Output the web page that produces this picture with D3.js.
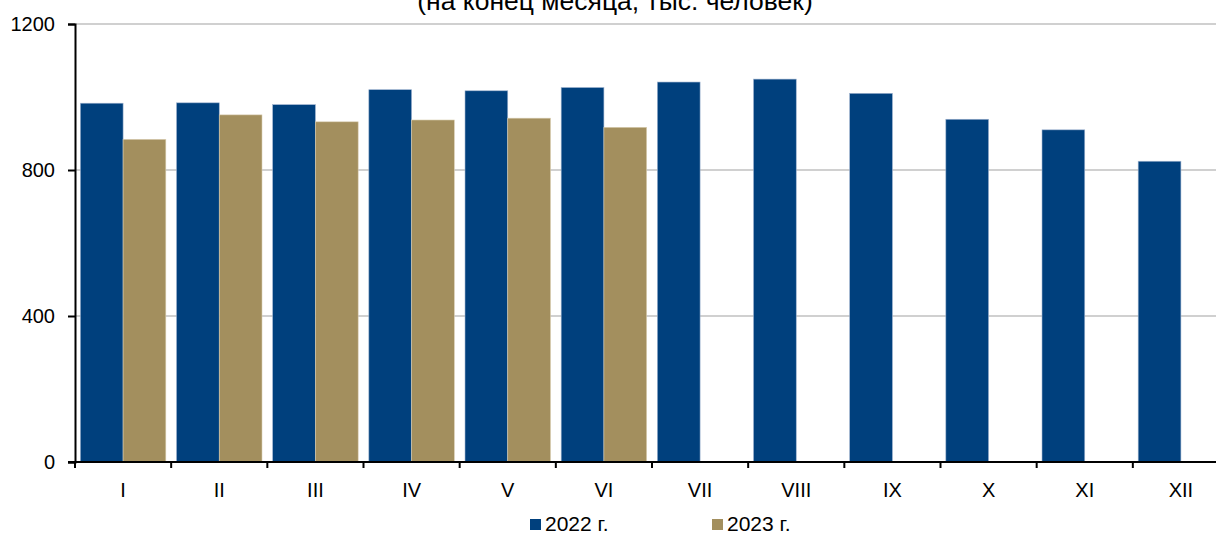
<!DOCTYPE html>
<html>
<head>
<meta charset="utf-8">
<script src="https://cdn.jsdelivr.net/npm/d3@7"></script>
<style>
  body { margin: 0; background: #fff; }
  svg { display: block; font-family: "Liberation Sans", Arial, sans-serif; }
</style>
</head>
<body>
<script>
// Data
const months = ['I', 'II', 'III', 'IV', 'V', 'VI', 'VII', 'VIII', 'IX', 'X', 'XI', 'XII'];
const values2022 = [983, 984, 979, 1020, 1017, 1026, 1041, 1049, 1010, 939, 910, 824];
const values2023 = [884, 951, 932, 937, 942, 917, null, null, null, null, null, null];
const seriesNames = ['2022 г.', '2023 г.'];
const yTicks = [0, 400, 800, 1200];

const colors = ['#00407D', '#A38F5E'];

// SVG dimensions
const fullWidth = 1216;
const fullHeight = 534;
const margin = { top: 24, left: 75 };
const plotRight = 1229;
const plotBottom = 462;

const svg = d3.select('body')
  .append('svg')
  .attr('width', fullWidth)
  .attr('height', fullHeight);

// Title (cut at top like in the source)
svg.append('text')
  .attr('x', 615)
  .attr('y', 10)
  .attr('text-anchor', 'middle')
  .style('font-size', '26.5px')
  .text('(на конец месяца, тыс. человек)');

// Scales
const x = d3.scaleBand()
  .domain(months)
  .range([margin.left, plotRight])
  .paddingInner(0)
  .paddingOuter(0);

const x1 = d3.scaleBand()
  .domain([0, 1])
  .range([0, x.bandwidth()])
  .paddingOuter(0.125)
  .paddingInner(0);

const y = d3.scaleLinear()
  .domain([0, 1200])
  .range([plotBottom, margin.top]);

// Gridlines
svg.append('g')
  .selectAll('line')
  .data(yTicks.filter(d => d > 0))
  .enter()
  .append('line')
  .attr('x1', margin.left)
  .attr('x2', plotRight)
  .attr('y1', d => y(d))
  .attr('y2', d => y(d))
  .attr('stroke', '#c0c0c0')
  .attr('stroke-width', 1.5);

// Bars
const series = [values2022, values2023];
series.forEach((vals, si) => {
  svg.append('g')
    .selectAll('rect')
    .data(vals.map((v, i) => ({ m: months[i], v })).filter(d => d.v != null))
    .enter()
    .append('rect')
    .attr('x', d => x(d.m) + x1(si))
    .attr('y', d => y(d.v))
    .attr('width', x1.bandwidth())
    .attr('height', d => y(0) - y(d.v))
    .attr('fill', colors[si])
    .attr('stroke', si === 0 ? '#9fb3cf' : '#d9ceb2')
    .attr('stroke-width', 0.6);
});

// Y axis
const yAxis = svg.append('g')
  .attr('transform', `translate(${margin.left},0)`)
  .call(d3.axisLeft(y).tickValues(yTicks).tickSize(7).tickPadding(13).tickFormat(d3.format('d')));
yAxis.select('.domain').attr('stroke', '#000').attr('stroke-width', 2);
yAxis.selectAll('.tick line').attr('stroke', '#000').attr('stroke-width', 2);
yAxis.selectAll('.tick text')
  .style('font-size', '20px')
  .style('font-family', '"Liberation Sans", Arial, sans-serif')
  .attr('fill', '#000');

// X axis with ticks at category boundaries
const xAxis = svg.append('g')
  .attr('transform', `translate(0,${plotBottom})`);
xAxis.append('line')
  .attr('x1', margin.left - 7)
  .attr('x2', plotRight)
  .attr('stroke', '#000')
  .attr('stroke-width', 2);
xAxis.selectAll('line.tk')
  .data(months)
  .enter()
  .append('line')
  .attr('class', 'tk')
  .attr('x1', d => x(d))
  .attr('x2', d => x(d))
  .attr('y1', 0)
  .attr('y2', 6)
  .attr('stroke', '#000')
  .attr('stroke-width', 2);
xAxis.selectAll('text')
  .data(months)
  .enter()
  .append('text')
  .attr('x', d => x(d) + x.bandwidth() / 2)
  .attr('y', 35)
  .attr('text-anchor', 'middle')
  .style('font-size', '20px')
  .text(d => d);

// Legend
const legendX = [530, 712];
const leg = svg.append('g');
seriesNames.forEach((name, i) => {
  leg.append('rect')
    .attr('x', legendX[i])
    .attr('y', 519)
    .attr('width', 11)
    .attr('height', 11)
    .attr('fill', colors[i]);
  leg.append('text')
    .attr('x', legendX[i] + 15)
    .attr('y', 531)
    .style('font-size', '21px')
    .text(name);
});
</script>
</body>
</html>
